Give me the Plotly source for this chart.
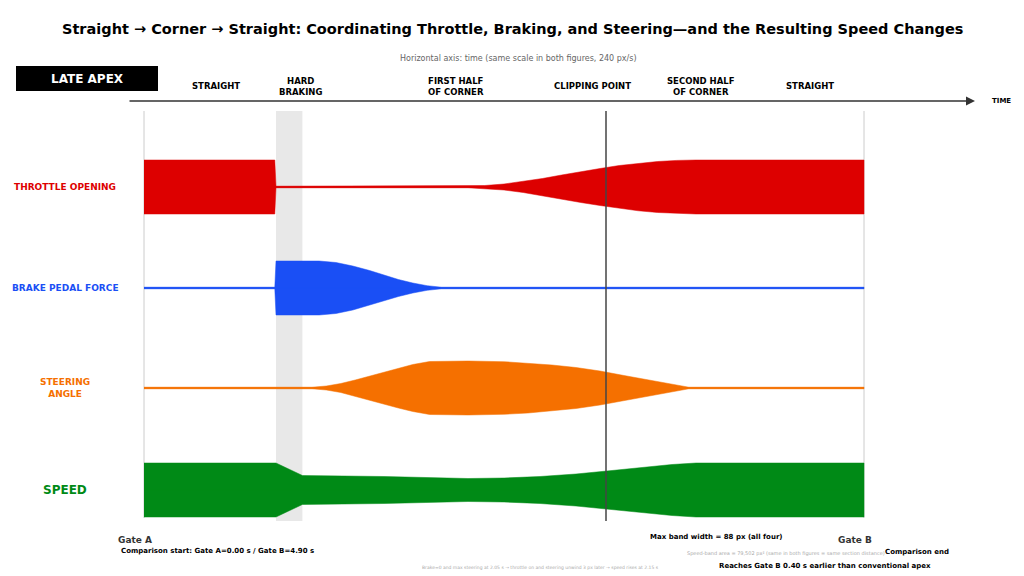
import plotly.graph_objects as go

PXS = 240.0
X0 = 144.0
OFF = 8.0  # page body offset
# keyframes: time (s) and half-band width (px)
throttle_t = [0, 0.545, 0.55, 1.35, 1.42, 1.5, 1.58, 1.66, 1.74, 1.82, 1.9, 1.98, 2.06, 2.14, 2.22, 2.3, 3.0]
throttle_w = [27, 27, 0.8, 0.8, 1.5, 3, 5.5, 8.5, 12, 15.5, 18.5, 21.5, 23.8, 25.5, 26.6, 27, 27]
brake_t = [0, 0.545, 0.55, 0.73, 0.8, 0.87, 0.94, 1.0, 1.06, 1.12, 1.18, 1.24, 3.0]
brake_w = [0.8, 0.8, 27, 27, 25.5, 22, 17.5, 13, 8.5, 5, 2.3, 0.8, 0.8]
steer_t = [0, 0.7, 0.76, 0.82, 0.88, 0.94, 1.0, 1.06, 1.12, 1.19, 1.35, 1.5, 1.6, 1.7, 1.8, 1.9, 2.0, 2.1, 2.2, 2.27, 3.0]
steer_w = [0.8, 0.8, 2, 4.5, 8, 12, 16, 20, 23.5, 26.5, 27, 26.3, 25, 23, 20.5, 17, 12.5, 8, 4, 0.8, 0.8]
speed_t = [0, 0.55, 0.66, 1.0, 1.35, 1.5, 1.65, 1.8, 1.95, 2.1, 2.2, 2.3, 3.0]
speed_w = [27, 27, 14.5, 13.5, 11.5, 12, 13.5, 16, 19.5, 23, 25.5, 27, 27]

channels = [
    ("THROTTLE OPENING", "#dd0000", 187, throttle_t, throttle_w),
    ("BRAKE PEDAL FORCE", "#1a4ff5", 288, brake_t, brake_w),
    ("STEERING<br>ANGLE", "#f57000", 388, steer_t, steer_w),
    ("SPEED", "#008a16", 490, speed_t, speed_w),
]
phases = [("STRAIGHT", 0.3), ("HARD<br>BRAKING", 0.65), ("FIRST HALF<br>OF CORNER", 1.3),
          ("CLIPPING POINT", 1.87), ("SECOND HALF<br>OF CORNER", 2.32), ("STRAIGHT", 2.775)]

fig = go.Figure()
fig.add_shape(type="rect", x0=0.55, x1=0.66, y0=111, y1=521, fillcolor="#e8e8e8", line_width=0, layer="below")
for xv in [0, 3.0]:
    fig.add_shape(type="line", x0=xv, x1=xv, y0=111, y1=518, line=dict(color="#cccccc", width=1), layer="below")
fig.add_shape(type="line", x0=1.925, x1=1.925, y0=111, y1=521, line=dict(color="#444", width=1.5))

for name, col, cy, ts, ws in channels:
    xs = list(ts) + list(ts[::-1])
    ys = [cy - w for w in ws] + [cy + w for w in ws[::-1]]
    fig.add_trace(go.Scatter(x=xs, y=ys, fill="toself", fillcolor=col, mode="lines",
                             line=dict(color=col, width=0.5),
                             hoverinfo="skip", showlegend=False))
    fig.add_trace(go.Scatter(x=[0, 3.0], y=[cy, cy], mode="lines", line=dict(color=col, width=1.5),
                             hoverinfo="skip", showlegend=False))
    big = name == "SPEED"
    fig.add_annotation(x=(65 - X0) / PXS, y=cy, text=f"<b>{name}</b>", showarrow=False,
                       font=dict(color=col, size=12 if big else 9, family="DejaVu Sans"))

fig.add_annotation(x=(975 - X0) / PXS, y=101, ax=(128 - X0) / PXS, ay=101, axref="x", ayref="y",
                   xref="x", yref="y", text="", showarrow=True, arrowhead=2, arrowsize=1.2,
                   arrowwidth=1.5, arrowcolor="#333")
fig.add_annotation(x=(1001 - X0) / PXS, y=101, text="<b>TIME</b>", showarrow=False,
                   font=dict(size=7, color="black"))
for lab, t in phases:
    fig.add_annotation(x=t, y=86, text=f"<b>{lab}</b>", showarrow=False,
                       font=dict(size=8.5, color="black", family="DejaVu Sans"), yanchor="middle")
fig.add_shape(type="rect", x0=(16 - X0) / PXS, x1=(158 - X0) / PXS, y0=66, y1=91,
              fillcolor="black", line_width=0)
fig.add_annotation(x=(87 - X0) / PXS, y=79, text="<b>LATE APEX</b>", showarrow=False,
                   font=dict(size=12, color="white", family="DejaVu Sans"))

fig.add_annotation(x=(512 - X0) / PXS, y=29, showarrow=False,
                   text="<b>Straight → Corner → Straight: Coordinating Throttle, Braking, and Steering—and the Resulting Speed Changes</b>",
                   font=dict(size=14.5, color="black", family="DejaVu Sans"))
fig.add_annotation(x=(518 - X0) / PXS, y=58, showarrow=False,
                   text="Horizontal axis: time (same scale in both figures, 240 px/s)",
                   font=dict(size=8, color="#666"))
small = [
    ("<b>Gate A</b>", 135, 540, 9, "#333"),
    ("<b>Comparison start: Gate A=0.00 s / Gate B=4.90 s</b>", 217, 551, 7, "black"),
    ("<b>Gate B</b>", 855, 540, 9, "#333"),
    ("<b>Max band width = 88 px (all four)</b>", 716, 537, 7, "black"),
    ("Speed-band area = 79,502 px² (same in both figures = same section distance)", 786, 553, 5, "#aaa"),
    ("<b>Comparison end</b>", 917, 552, 7, "black"),
    ("<b>Reaches Gate B 0.40 s earlier than conventional apex</b>", 825, 566, 7, "black"),
    ("Brake=0 and max steering at 2.05 s → throttle on and steering unwind 3 px later → speed rises at 2.15 s", 540, 567, 4.5, "#aaa"),
]
for txt, x, y, s, c in small:
    fig.add_annotation(x=(x - X0) / PXS, y=y, text=txt, showarrow=False, font=dict(size=s, color=c))

fig.update_layout(width=1024, height=576, margin=dict(l=0, r=0, t=0, b=0),
                  plot_bgcolor="white", paper_bgcolor="white",
                  font=dict(family="DejaVu Sans"),
                  xaxis=dict(range=[(OFF - X0) / PXS, (1024 + OFF - X0) / PXS], visible=False, fixedrange=True),
                  yaxis=dict(range=[576 + OFF, OFF], visible=False, fixedrange=True))
fig.write_html("out.html")
